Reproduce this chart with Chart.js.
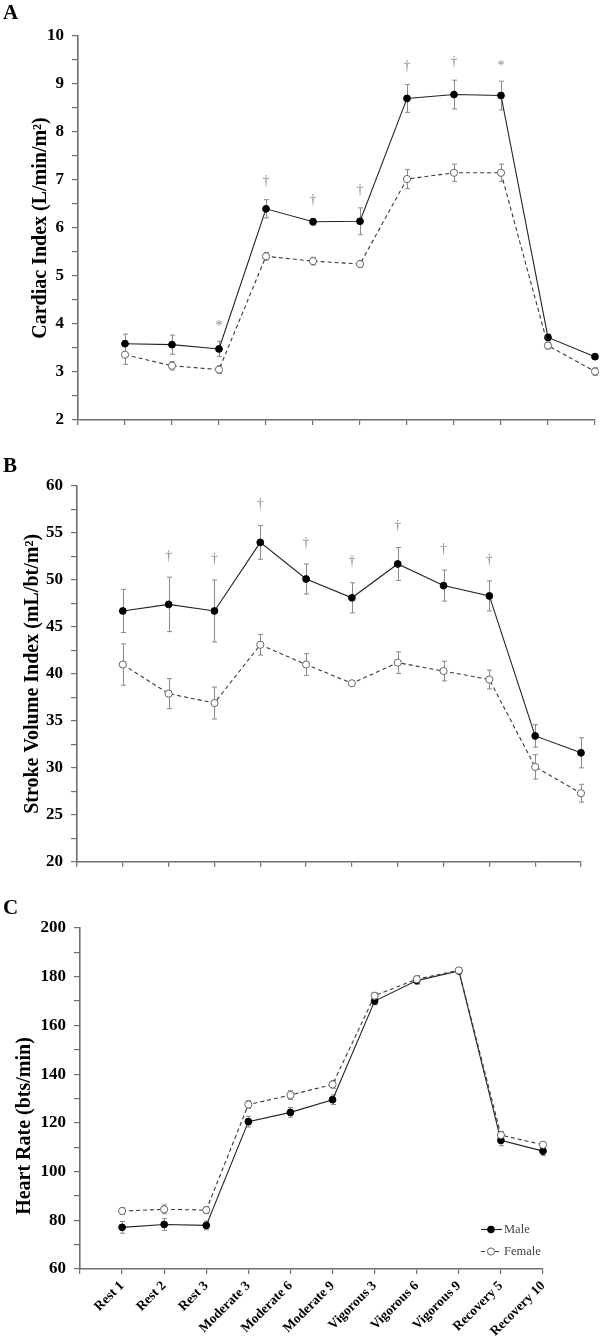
<!DOCTYPE html>
<html><head><meta charset="utf-8">
<script src="https://cdn.jsdelivr.net/npm/chart.js@4.4.1/dist/chart.umd.min.js"></script>
<style>
html,body{margin:0;padding:0;background:#fff;}
body{width:600px;height:1338px;position:relative;overflow:hidden;}
canvas{position:absolute;left:0;}
.lab{position:absolute;left:3px;font:bold 21px "Liberation Serif",serif;line-height:21px;color:#000;z-index:2;}
</style></head><body>
<canvas id="cA" width="600" height="440" style="top:0px"></canvas>
<canvas id="cB" width="600" height="440" style="top:440px"></canvas>
<canvas id="cC" width="600" height="458" style="top:880px"></canvas>
<div class="lab" style="top:2px">A</div>
<div class="lab" style="top:455px">B</div>
<div class="lab" style="top:897px">C</div>
<script>
const categories = ['Rest 1','Rest 2','Rest 3','Moderate 3','Moderate 6','Moderate 9','Vigorous 3','Vigorous 6','Vigorous 9','Recovery 5','Recovery 10'];

// Panel A: Cardiac Index
const ciMale      = [3.59, 3.57, 3.48, 6.40, 6.13, 6.14, 8.70, 8.78, 8.76, 3.72, 3.32];
const ciMaleErr   = [0.20, 0.20, 0.16, 0.19, 0.07, 0.28, 0.29, 0.30, 0.30, 0.07, 0.05];
const ciFemale    = [3.36, 3.13, 3.05, 5.41, 5.31, 5.25, 7.02, 7.15, 7.15, 3.55, 3.01];
const ciFemaleErr = [0.20, 0.09, 0.08, 0.08, 0.08, 0.07, 0.20, 0.18, 0.18, 0.07, 0.08];
const ciSig       = ['', '', '*', '\u2020', '\u2020', '\u2020', '\u2020', '\u2020', '*', '', ''];
const ciTickLabels = [2, 3, 4, 5, 6, 7, 8, 9, 10];

// Panel B: Stroke Volume Index
const sviMale      = [46.7, 47.4, 46.7, 54.0, 50.1, 48.1, 51.7, 49.4, 48.3, 33.4, 31.6];
const sviMaleErr   = [2.3, 2.9, 3.3, 1.8, 1.6, 1.6, 1.75, 1.65, 1.6, 1.2, 1.6];
const sviFemale    = [41.0, 37.9, 36.9, 43.1, 41.0, 39.0, 41.2, 40.3, 39.4, 30.1, 27.3];
const sviFemaleErr = [2.2, 1.6, 1.7, 1.1, 1.15, 0.1, 1.15, 1.05, 1.0, 1.3, 0.95];
const sviSig       = ['', '\u2020', '\u2020', '\u2020', '\u2020', '\u2020', '\u2020', '\u2020', '\u2020', '', ''];
const sviTickLabels = [20, 25, 30, 35, 40, 45, 50, 55, 60];

// Panel C: Heart Rate
const hrMale      = [77.1, 78.3, 77.9, 120.5, 124.3, 129.5, 170.0, 178.4, 182.4, 112.8, 108.4];
const hrMaleErr   = [2.4, 2.4, 1.8, 2.2, 2.0, 2.0, 1.5, 1.5, 1.3, 2.2, 1.8];
const hrFemale    = [83.8, 84.5, 84.2, 127.5, 131.4, 135.8, 172.2, 179.0, 182.6, 115.0, 111.0];
const hrFemaleErr = [1.4, 1.8, 1.4, 1.6, 1.8, 1.6, 1.2, 1.5, 1.2, 1.5, 1.0];
const hrSig       = ['', '', '', '', '', '', '', '', '', '', ''];
const hrTickLabels = [60, 80, 100, 120, 140, 160, 180, 200];

const seriesNames = ['Male', 'Female'];

const FONT = '"Liberation Serif", "Times New Roman", serif';
const AXIS = '#6e6e6e';

const errorBarPlugin = {
  id: 'errorBars',
  beforeDatasetsDraw(chart) {
    const {ctx, scales: {x, y}} = chart;
    ctx.save();
    ctx.strokeStyle = '#8a8a8a';
    ctx.lineWidth = 1;
    chart.data.datasets.forEach(ds => {
      if (!ds.errors) return;
      ds.data.forEach((p, i) => {
        const px = Math.round(x.getPixelForValue(p.x)) + 0.5;
        const e = ds.errors[i];
        const y1 = y.getPixelForValue(p.y + e), y2 = y.getPixelForValue(p.y - e);
        ctx.beginPath();
        ctx.moveTo(px, y1); ctx.lineTo(px, y2);
        ctx.moveTo(px - 2.5, y1); ctx.lineTo(px + 2.5, y1);
        ctx.moveTo(px - 2.5, y2); ctx.lineTo(px + 2.5, y2);
        ctx.stroke();
      });
    });
    ctx.restore();
  }
};

const sigPlugin = {
  id: 'sigMarks',
  afterDatasetsDraw(chart, args, opts) {
    const {ctx, scales: {x, y}} = chart;
    const ds = chart.data.datasets[0];
    if (!ds.sig) return;
    ctx.save();
    ctx.fillStyle = '#8c8c8c';
    ctx.font = '14px ' + FONT;
    ctx.textAlign = 'center';
    ctx.textBaseline = 'middle';
    ds.data.forEach((p, i) => {
      const s = ds.sig[i];
      if (!s) return;
      const px = x.getPixelForValue(p.x);
      const py = y.getPixelForValue(p.y + ds.errors[i]) - (opts.offset || 18);
      ctx.fillText(s, px, py + (s === '*' ? 3 : 0));
    });
    ctx.restore();
  }
};

const legendPlugin = {
  id: 'cornerLegend',
  afterDraw(chart, args, opts) {
    if (!opts.show) return;
    const {ctx, chartArea: a} = chart;
    const dss = chart.data.datasets;
    ctx.save();
    const rows = [a.bottom - 40, a.bottom - 18];
    dss.forEach((ds, k) => {
      const yy = rows[k] + 0.5;
      const x0 = a.right - 62, x1 = a.right - 41, xm = a.right - 52;
      ctx.strokeStyle = ds.borderColor;
      ctx.lineWidth = ds.borderWidth;
      ctx.setLineDash(ds.borderDash || []);
      ctx.beginPath(); ctx.moveTo(x0, yy); ctx.lineTo(x1, yy); ctx.stroke();
      ctx.setLineDash([]);
      ctx.beginPath(); ctx.arc(xm, yy, ds.pointRadius, 0, Math.PI * 2);
      ctx.fillStyle = ds.pointBackgroundColor; ctx.fill();
      ctx.strokeStyle = ds.pointBorderColor; ctx.lineWidth = 1; ctx.stroke();
      ctx.fillStyle = '#444';
      ctx.font = '12.5px ' + FONT;
      ctx.textAlign = 'left';
      ctx.textBaseline = 'middle';
      ctx.fillText(ds.label, a.right - 39, yy + 0.5);
    });
    ctx.restore();
  }
};

function pts(arr) { return arr.map((v, i) => ({x: i, y: v})); }

function makeChart(id, c) {
  return new Chart(document.getElementById(id), {
    type: 'line',
    data: {
      datasets: [
        {
          label: seriesNames[0], data: pts(c.male), errors: c.maleErr, sig: c.sig,
          borderColor: '#222', borderWidth: 1.1, pointRadius: 3.4,
          pointBackgroundColor: '#000', pointBorderColor: '#000', pointBorderWidth: 1,
          tension: 0, clip: false, order: 2
        },
        {
          label: seriesNames[1], data: pts(c.female), errors: c.femaleErr,
          borderColor: '#3a3a3a', borderWidth: 1.1, borderDash: [4, 3], pointRadius: 3.6,
          pointBackgroundColor: '#fff', pointBorderColor: '#666', pointBorderWidth: 1,
          tension: 0, clip: false, order: 1
        }
      ]
    },
    options: {
      responsive: false, animation: false, devicePixelRatio: 1,
      events: [],
      layout: {padding: {top: c.padTop, right: c.padRight, bottom: 0, left: 0}},
      plugins: {
        legend: {display: false}, tooltip: {enabled: false},
        sigMarks: {offset: c.sigOffset},
        cornerLegend: {show: !!c.legend}
      },
      scales: {
        x: {
          type: 'linear', min: -1, max: 10,
          ticks: {
            stepSize: 1, autoSkip: false, display: !!c.showX,
            maxRotation: 45, minRotation: 45, padding: 4,
            font: {family: FONT, weight: 'bold', size: 13.5}, color: '#000',
            callback: v => (v >= 0 && Number.isInteger(v)) ? categories[v] : ''
          },
          grid: {display: true, drawOnChartArea: false, drawTicks: true, tickLength: 5, color: AXIS, lineWidth: 1.2},
          border: {display: true, color: AXIS, width: 1.6},
          afterFit: s => { s.height = c.xH; }
        },
        y: {
          type: 'linear', min: c.yMin, max: c.yMax,
          ticks: {
            stepSize: c.yStep, autoSkip: false, padding: c.tickPad,
            font: {family: FONT, weight: 'bold', size: 17}, color: '#000',
            callback: v => c.tickLabels.includes(v) ? String(v) : ''
          },
          grid: {display: true, drawOnChartArea: false, drawTicks: true, tickLength: 6, color: AXIS, lineWidth: 1.2},
          border: {display: true, color: AXIS, width: 1.6},
          title: {
            display: true, text: c.title, color: '#000',
            font: {family: FONT, weight: 'bold', size: 20, lineHeight: 1.2},
            padding: {top: c.titlePad, bottom: 0}
          },
          afterFit: s => { s.width = c.yW; }
        }
      }
    },
    plugins: [errorBarPlugin, sigPlugin, legendPlugin]
  });
}

makeChart('cA', {
  male: ciMale, maleErr: ciMaleErr, female: ciFemale, femaleErr: ciFemaleErr, sig: ciSig,
  yMin: 2, yMax: 10, yStep: 0.5, tickLabels: ciTickLabels,
  title: 'Cardiac Index (L/min/m\u00B2)',
  padTop: 36, padRight: 5, xH: 20, yW: 78, titlePad: 29, tickPad: 8, sigOffset: 18
});
makeChart('cB', {
  male: sviMale, maleErr: sviMaleErr, female: sviFemale, femaleErr: sviFemaleErr, sig: sviSig,
  yMin: 20, yMax: 60, yStep: 2.5, tickLabels: sviTickLabels,
  title: 'Stroke Volume Index (mL/bt/m\u00B2)',
  padTop: 46, padRight: 19, xH: 6, yW: 77, titlePad: 21, tickPad: 8, sigOffset: 21
});
makeChart('cC', {
  male: hrMale, maleErr: hrMaleErr, female: hrFemale, femaleErr: hrFemaleErr, sig: hrSig,
  yMin: 60, yMax: 200, yStep: 10, tickLabels: hrTickLabels,
  title: 'Heart Rate (bts/min)' + '\u00A0'.repeat(11),
  padTop: 48, padRight: 57, xH: 69, yW: 80, titlePad: 13, tickPad: 8, sigOffset: 18,
  showX: true, legend: true
});
</script>
</body></html>
